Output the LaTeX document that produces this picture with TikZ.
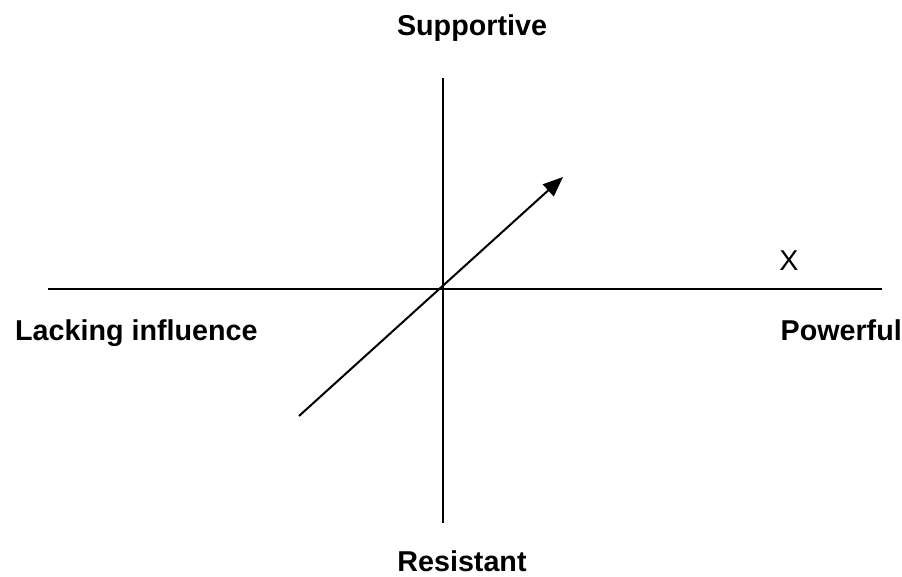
\documentclass[tikz,border=0pt]{standalone}
\usepackage{fontspec}
\setmainfont{Liberation Sans}
\usetikzlibrary{arrows.meta}
\begin{document}
\begin{tikzpicture}[x=1pt,y=-1pt,
  axis/.style={line width=2pt},
  lbl/.style={font=\fontsize{28.7}{34}\selectfont\bfseries, inner sep=0pt},
  mark label/.style={font=\fontsize{28.7}{34}\selectfont, inner sep=0pt}]
\useasboundingbox (0,0) rectangle (902,576);
\coordinate (hl) at (48,289);
\coordinate (hr) at (882,289);
\coordinate (vt) at (443,78);
\coordinate (vb) at (443,523);
\coordinate (atail) at (299,416);
\coordinate (ahead) at (563,177);
\draw[axis] (hl) -- (hr);
\draw[axis] (vt) -- (vb);
\draw[axis,-{Triangle[length=20pt,width=16pt]}] (atail) -- (ahead);
\node[lbl,anchor=base] (sup) at (472,35) {Supportive};
\node[lbl,anchor=base] (res) at (462,571) {Resistant};
\node[lbl,anchor=base west] (lack) at (15,340) {Lacking influence};
\node[lbl,anchor=base east] (pow) at (902,340) {Powerful};
\node[mark label,anchor=base] (x) at (789,270) {X};
\end{tikzpicture}
\end{document}
